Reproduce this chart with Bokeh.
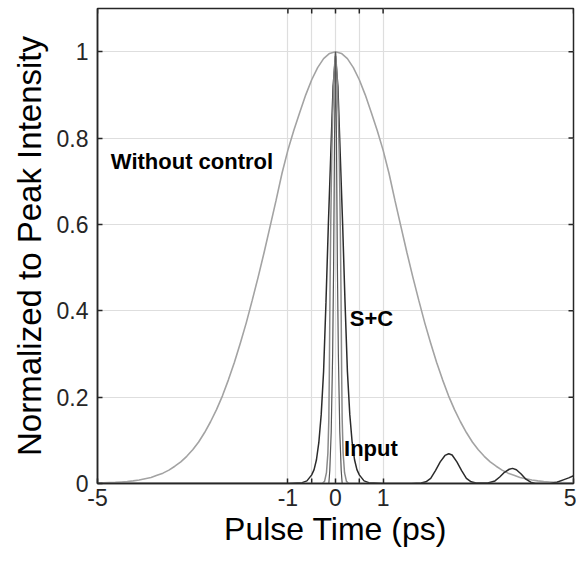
import math
from bokeh.plotting import figure
from bokeh.models import FixedTicker, Range1d, Label
from bokeh.embed import file_html
from bokeh.resources import INLINE

# ---- data ----
wc_x = [-5, -4.875, -4.75, -4.625, -4.5, -4.375, -4.25, -4.125, -4, -3.875, -3.75, -3.625, -3.5,
        -3.375, -3.25, -3.125, -3, -2.875, -2.75, -2.625, -2.5, -2.375, -2.25, -2.125, -2, -1.875,
        -1.75, -1.625, -1.5, -1.375, -1.25, -1.125, -1, -0.875, -0.75, -0.625, -0.5, -0.375, -0.25,
        -0.125, 0, 0.125, 0.25, 0.375, 0.5, 0.625, 0.75, 0.875, 1, 1.125, 1.25, 1.375, 1.5, 1.625,
        1.75, 1.875, 2, 2.125, 2.25, 2.375, 2.5, 2.625, 2.75, 2.875, 3, 3.125, 3.25, 3.375, 3.5,
        3.625, 3.75, 3.875, 4, 4.125, 4.25, 4.375, 4.5, 4.625, 4.75, 4.875, 5]
wc_y = [0.001, 0.0015, 0.002, 0.0025, 0.0035, 0.0045, 0.006, 0.008, 0.011, 0.014, 0.019, 0.024,
        0.031, 0.04, 0.05, 0.063, 0.078, 0.096, 0.118, 0.143, 0.171, 0.203, 0.24, 0.28, 0.325,
        0.372, 0.424, 0.478, 0.535, 0.595, 0.655, 0.718, 0.772, 0.818, 0.86, 0.9, 0.935, 0.963,
        0.984, 0.996, 1.0, 0.996, 0.984, 0.963, 0.935, 0.9, 0.86, 0.818, 0.772, 0.718, 0.655,
        0.595, 0.535, 0.478, 0.424, 0.372, 0.325, 0.28, 0.24, 0.203, 0.171, 0.143, 0.118, 0.096,
        0.078, 0.063, 0.05, 0.04, 0.031, 0.024, 0.019, 0.014, 0.011, 0.008, 0.006, 0.0045, 0.0035,
        0.0025, 0.002, 0.0015, 0.001]

sc_x = [-5, -1.0, -0.7, -0.6, -0.5, -0.45, -0.4, -0.35, -0.3, -0.25, -0.2, -0.15, -0.1, -0.05, 0,
        0.05, 0.1, 0.15, 0.2, 0.25, 0.3, 0.35, 0.4, 0.45, 0.5, 0.6, 0.7, 1.0, 1.6, 1.8, 1.9, 2.0, 2.1,
        2.2, 2.3, 2.38, 2.45, 2.55, 2.65, 2.75, 2.85, 2.95, 3.2, 3.35, 3.45, 3.55, 3.65, 3.72, 3.8,
        3.9, 4.0, 4.1, 4.2, 4.5, 4.65, 4.8, 4.9, 5.0]
sc_y = [0, 0, 0.002, 0.006, 0.02, 0.032, 0.055, 0.095, 0.16, 0.26, 0.42, 0.6, 0.76, 0.92, 0.99,
        0.92, 0.76, 0.6, 0.42, 0.26, 0.16, 0.095, 0.055, 0.032, 0.02, 0.006, 0.002, 0, 0, 0.001,
        0.004, 0.012, 0.03, 0.05, 0.065, 0.069, 0.066, 0.05, 0.03, 0.012, 0.004, 0.001, 0.001, 0.006,
        0.015, 0.026, 0.033, 0.035, 0.032, 0.022, 0.01, 0.003, 0.0, 0.0, 0.003, 0.009, 0.013, 0.018]

in_x = [-5, -0.28, -0.23, -0.19, -0.16, -0.14, -0.13, -0.115, -0.1, -0.08, -0.06, -0.03, 0,
        0.03, 0.06, 0.08, 0.1, 0.115, 0.13, 0.14, 0.16, 0.19, 0.23, 0.28, 5]
in_y = [0, 0, 0.005, 0.025, 0.07, 0.15, 0.25, 0.45, 0.6, 0.75, 0.85, 0.95, 1.0,
        0.95, 0.85, 0.75, 0.6, 0.45, 0.25, 0.15, 0.07, 0.025, 0.005, 0, 0]

inner_x = [-0.14, -0.12, -0.09, -0.06, -0.04, -0.02, 0, 0.02, 0.04, 0.06, 0.09, 0.12, 0.14]
inner_y = [0, 0.03, 0.12, 0.3, 0.5, 0.8, 1.0, 0.8, 0.5, 0.3, 0.12, 0.03, 0]

x_label_ticks = [-5, -1, 0, 1, 5]
x_tick_labels = {-5: "-5", -1: "-1", 0: "0", 1: "1", 5: "5"}
x_all_ticks = [-5, -1, -0.5, 0, 0.5, 1, 5]
x_grid = [-1, -0.5, 0, 0.5, 1]
y_ticks = [0, 0.2, 0.4, 0.6, 0.8, 1]
y_tick_labels = {0: "0", 0.2: "0.2", 0.4: "0.4", 0.6: "0.6", 0.8: "0.8", 1: "1"}

X0, X1, Y0, Y1 = -5, 5, 0, 1.1
FONT = "Liberation Sans"
AX = "#262626"

p = figure(width=576, height=563, output_backend="svg", toolbar_location=None,
           x_range=Range1d(X0, X1), y_range=Range1d(Y0, Y1),
           min_border_left=97, min_border_right=3, min_border_top=8, min_border_bottom=80)
p.background_fill_color = "white"
p.border_fill_color = "white"
p.outline_line_color = AX
p.outline_line_width = 1.5

p.xaxis.ticker = FixedTicker(ticks=x_label_ticks)
p.xaxis.major_label_overrides = x_tick_labels
p.yaxis.ticker = FixedTicker(ticks=y_ticks)
p.yaxis.major_label_overrides = y_tick_labels

for ax in [p.xaxis[0], p.yaxis[0]]:
    ax.axis_line_color = AX
    ax.axis_line_width = 1.5
    ax.major_tick_in = 5
    ax.major_tick_out = 0
    ax.major_tick_line_color = AX
    ax.major_tick_line_width = 1.5
    ax.minor_tick_line_color = None
    ax.major_label_text_font = FONT
    ax.major_label_text_font_size = "23px"
    ax.major_label_text_color = AX
    ax.axis_label_text_font = FONT
    ax.axis_label_text_font_style = "normal"
    ax.axis_label_text_color = "black"

p.xaxis.axis_label = "Pulse Time (ps)"
p.xaxis.axis_label_text_font_size = "32px"
p.xaxis.major_label_standoff = 5
p.xaxis.axis_label_standoff = 2
p.yaxis.axis_label = "Normalized to Peak Intensity"
p.yaxis.axis_label_text_font_size = "33px"
p.yaxis.major_label_standoff = 9
p.yaxis.axis_label_standoff = 6

p.xgrid.ticker = FixedTicker(ticks=x_grid)
p.ygrid.ticker = FixedTicker(ticks=y_ticks)
p.xgrid.grid_line_color = "#dedede"
p.ygrid.grid_line_color = "#dedede"
p.xgrid.grid_line_width = 1.2
p.ygrid.grid_line_width = 1.2

# inward tick marks on the top and right edges of the box
p.scatter(x_all_ticks, [Y1] * len(x_all_ticks), marker="dash", size=10, angle=math.pi / 2,
          line_color=AX, line_width=1.5)
p.scatter([X1] * len(y_ticks), y_ticks, marker="dash", size=10,
          line_color=AX, line_width=1.5)
p.scatter([-0.5, 0.5], [Y0, Y0], marker="dash", size=10, angle=math.pi / 2,
          line_color=AX, line_width=1.5)

p.line(wc_x, wc_y, line_color="#a3a3a3", line_width=1.6)
p.line(sc_x, sc_y, line_color="#2b2b2b", line_width=1.5)
p.line(in_x, in_y, line_color="#8a8a8a", line_width=1.5)
p.line(inner_x, inner_y, line_color="#555555", line_width=1.2)

for txt, x, y in [("Without control", -4.72, 0.745), ("S+C", 0.30, 0.383), ("Input", 0.18, 0.08)]:
    p.add_layout(Label(x=x, y=y, text=txt, text_font=FONT, text_font_style="bold",
                       text_font_size="22px", text_color="black", text_baseline="middle",
                       text_align="left"))

open("out.html", "w").write(file_html(p, INLINE))
